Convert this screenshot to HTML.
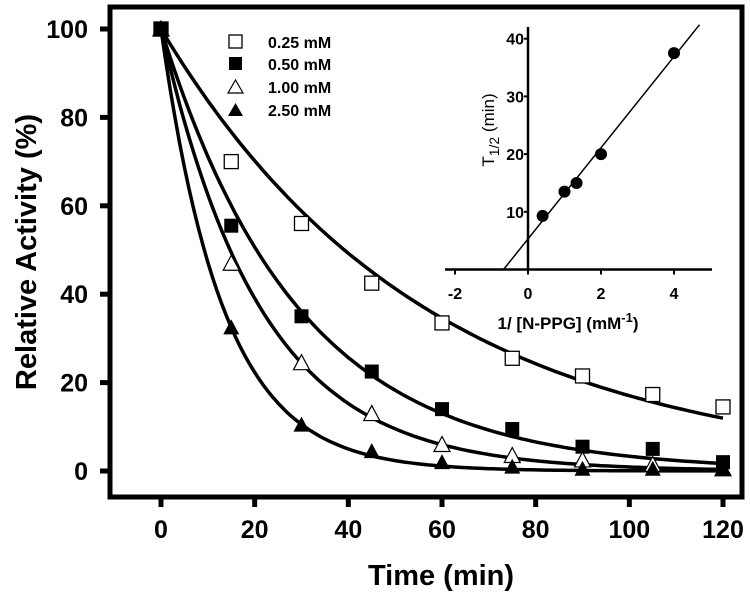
<!DOCTYPE html>
<html><head><meta charset="utf-8"><style>
body{margin:0;background:#fff}
svg{display:block;font-family:"Liberation Sans",Arial,sans-serif}
</style></head><body>
<svg id="c" width="750" height="598" viewBox="0 0 750 598">
<rect x="110" y="7" width="632" height="490" fill="none" stroke="#000" stroke-width="5"/>
<g id="axes"></g><g id="curves"></g><g id="marks"></g><g id="inset"></g>
<text x="441" y="585" text-anchor="middle" font-size="29" font-weight="bold">Time (min)</text>
<text transform="translate(36,252) rotate(-90)" text-anchor="middle" font-size="29" font-weight="bold">Relative Activity (%)</text>
<g font-size="16" font-weight="bold">
<rect x="229" y="35" width="13" height="13" fill="#fff" stroke="#000" stroke-width="1.3"/>
<text x="268" y="48">0.25 mM</text>
<rect x="229" y="57" width="13" height="13" fill="#000"/>
<text x="268" y="70">0.50 mM</text>
<path d="M235.5,80 L243,93 L228,93 Z" fill="#fff" stroke="#000" stroke-width="1.2"/>
<text x="268" y="93">1.00 mM</text>
<path d="M235.5,103 L243,116 L228,116 Z" fill="#000"/>
<text x="268" y="116">2.50 mM</text>
</g>
</svg>
<script>
const times=[0,15,30,45,60,75,90,105,120];
const s025=[100,70,56,42.5,33.5,25.5,21.5,17.3,14.5];
const s050=[100,55.5,35,22.5,14,9.5,5.5,5,2];
const s100=[100,47,24.5,13,6,3.5,2.5,1.5,0.5];
const s250=[100,32.5,10.5,4.5,2,1,0.5,0.5,0.5];
const rates=[0.0177,0.034,0.047,0.075];
const xTicks=[0,20,40,60,80,100,120];
const yTicks=[0,20,40,60,80,100];
const insetX=[0.4,1,1.33,2,4];
const insetY=[9.3,13.5,15,20,37.5];
const insetXTicks=[-2,0,2,4];
const insetYTicks=[10,20,30,40];
const fitSlope=7.9, fitIntercept=5.3;

const NS="http://www.w3.org/2000/svg";
function mk(p,t,a){const e=document.createElementNS(NS,t);for(const k in a)e.setAttribute(k,a[k]);p.appendChild(e);return e;}
const X=v=>161+v*(562/120), Y=v=>471-v*4.42;
const ax=document.getElementById('axes');
xTicks.forEach(t=>{
 const l=mk(ax,'line',{x1:X(t),x2:X(t),y1:497,y2:507,stroke:'#000','stroke-width':5});
 
 
 const tx=mk(ax,'text',{x:X(t),y:538,'text-anchor':'middle','font-size':25,'font-weight':'bold'});
 tx.textContent=t;
 
 
});
yTicks.forEach(t=>{
 const l=mk(ax,'line',{x1:100,x2:110,y1:Y(t),y2:Y(t),stroke:'#000','stroke-width':5});
 
 
 const tx=mk(ax,'text',{x:88,y:Y(t)+9,'text-anchor':'end','font-size':25,'font-weight':'bold'});
 tx.textContent=t;
 
 
});
const cv=document.getElementById('curves');
rates.forEach((k,i)=>{
 let d='';
 for(let t=0;t<=120;t+=1){d+=(t?'L':'M')+X(t).toFixed(1)+','+Y(100*Math.exp(-k*t)).toFixed(1);}
 const p=mk(cv,'path',{d:d,fill:'none',stroke:'#000','stroke-width':3.5});
 
 
});
const mg=document.getElementById('marks');
function sq(x,y,fill,name){const r=mk(mg,'rect',{x:x-7,y:y-7,width:14,height:14,fill:fill,stroke:fill==='#000'?'none':'#000','stroke-width':1.3});
 
 }
function tri(x,y,fill,name){const p=mk(mg,'path',{d:`M${x},${y-8} L${x+8},${y+7} L${x-8},${y+7} Z`,fill:fill,stroke:'#000','stroke-width':fill==='#000'?0:1.2});
 
 }
times.forEach((t,i)=>{
 sq(X(t),Y(s025[i]),'#fff','point-025');
 sq(X(t),Y(s050[i]),'#000','point-050');
 tri(X(t),Y(s100[i]),'#fff','point-100');
 tri(X(t),Y(s250[i]),'#000','point-250');
});
// inset
const ig=document.getElementById('inset');
const IX=v=>528+v*36.5, IY=v=>269.5-v*5.77;
let l=mk(ig,'line',{x1:445,x2:712,y1:IY(0),y2:IY(0),stroke:'#000','stroke-width':2.5});


l=mk(ig,'line',{x1:IX(0),x2:IX(0),y1:27,y2:IY(0),stroke:'#000','stroke-width':2.5});


insetXTicks.forEach(t=>{
 const tl=mk(ig,'line',{x1:IX(t),x2:IX(t),y1:IY(0),y2:IY(0)+5,stroke:'#000','stroke-width':2});
 
 
 const tx=mk(ig,'text',{x:IX(t),y:299,'text-anchor':'middle','font-size':16,'font-weight':'bold'});
 tx.textContent=t;
 
 
});
insetYTicks.forEach(t=>{
 const tl=mk(ig,'line',{x1:IX(0)-4,x2:IX(0),y1:IY(t),y2:IY(t),stroke:'#000','stroke-width':2});
 
 
 const tx=mk(ig,'text',{x:IX(0)-4,y:IY(t)+6,'text-anchor':'end','font-size':16,'font-weight':'bold'});
 tx.textContent=t;
 
 
});
const x0=-fitIntercept/fitSlope, x1=4.7;
l=mk(ig,'line',{x1:IX(x0),y1:IY(0),x2:IX(x1),y2:IY(fitIntercept+fitSlope*x1),stroke:'#000','stroke-width':1.5});


insetX.forEach((v,i)=>{
 const c=mk(ig,'circle',{cx:IX(v),cy:IY(insetY[i]),r:6,fill:'#000'});
 
 
});
let tt=mk(ig,'text',{x:568,y:329,'text-anchor':'middle','font-size':17,'font-weight':'bold'});
tt.innerHTML='1/ [N-PPG] (mM<tspan dy="-7" font-size="13">-1</tspan><tspan dy="7">)</tspan>';


tt=mk(ig,'text',{transform:'translate(494,130) rotate(-90)','text-anchor':'middle','font-size':17});
tt.innerHTML='T<tspan dy="5" font-size="14">1/2</tspan><tspan dy="-5">  (min)</tspan>';


</script>
</body></html>
